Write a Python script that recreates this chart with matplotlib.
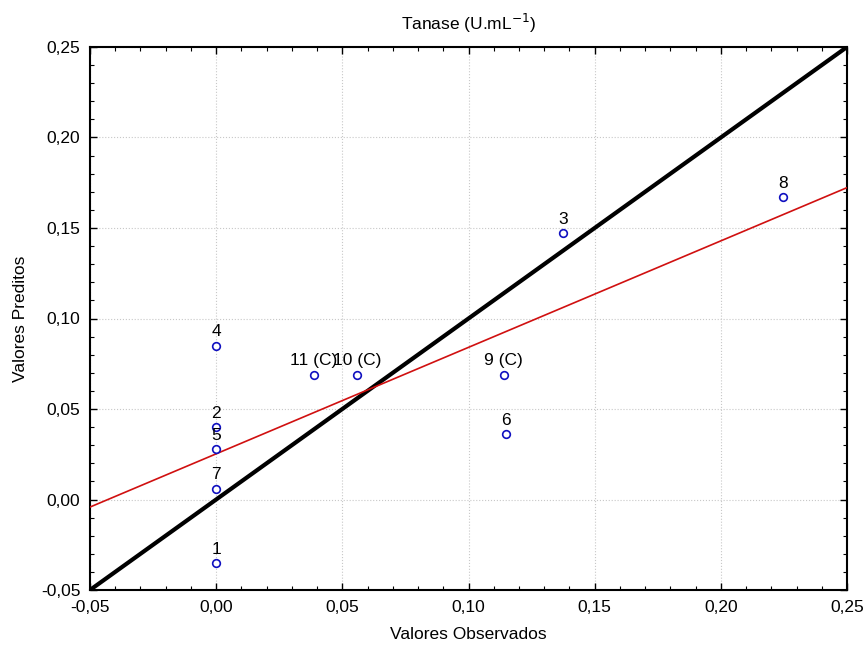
import matplotlib
matplotlib.use("Agg")
import matplotlib.pyplot as plt
import numpy as np
from matplotlib.ticker import MultipleLocator, FuncFormatter

plt.rcParams['font.family'] = ['Liberation Sans', 'DejaVu Sans']

labels = ["1", "2", "3", "4", "5", "6", "7", "8", "9 (C)", "10 (C)", "11 (C)"]
observed = [0.0, 0.0, 0.1375, 0.0, 0.0, 0.115, 0.0, 0.2247, 0.114, 0.0558, 0.0388]
predicted = [-0.035, 0.040, 0.147, 0.085, 0.028, 0.036, 0.006, 0.167, 0.069, 0.069, 0.069]

x = np.array(observed)
y = np.array(predicted)

FS = 12.5

fig = plt.figure(figsize=(8.66, 6.49), dpi=100)
ax = fig.add_axes([90/866, 1-590/649, (847-90)/866, (590-47)/649])

lim = (-0.05, 0.25)
ax.set_xlim(lim)
ax.set_ylim(lim)

ax.grid(True, which='major', color='#c8c8c8', linestyle=':', linewidth=0.8)
ax.set_axisbelow(True)

# identity line
ax.plot(lim, lim, color='black', linewidth=3, zorder=3)
# regression line
slope, intercept = np.polyfit(x, y, 1)
xs = np.array(lim)
ax.plot(xs, slope*xs + intercept, color='#d01010', linewidth=1.2, zorder=3)

ax.plot(x, y, linestyle='none', marker='o', markersize=5.5, markerfacecolor='white',
        markeredgecolor='#1010c0', markeredgewidth=1.2, zorder=4)

for lx, ly, t in zip(x, y, labels):
    ax.annotate(t, (lx, ly), xytext=(0, 4.5), textcoords='offset points',
                ha='center', va='bottom', fontsize=FS, zorder=5)

fmt = FuncFormatter(lambda v, p: f"{v:.2f}".replace('.', ',').replace('-0,00', '0,00'))
for axis in (ax.xaxis, ax.yaxis):
    axis.set_major_locator(MultipleLocator(0.05))
    axis.set_minor_locator(MultipleLocator(0.01))
    axis.set_major_formatter(fmt)

ax.tick_params(which='both', direction='in', top=True, right=True, labelsize=FS)
ax.tick_params(which='major', length=5, width=1)
ax.tick_params(which='minor', length=3, width=0.8)
ax.tick_params(axis='x', pad=7)
ax.tick_params(axis='y', pad=7)
for s in ax.spines.values():
    s.set_linewidth(1.5)

ax.set_xlabel("Valores Observados", fontsize=FS, labelpad=9)
ax.set_ylabel("Valores Preditos", fontsize=FS, labelpad=9)
ax.set_title("Tanase (U.mL$^{-1}$)", fontsize=FS, pad=12)

fig.savefig("out.png", dpi=100)
